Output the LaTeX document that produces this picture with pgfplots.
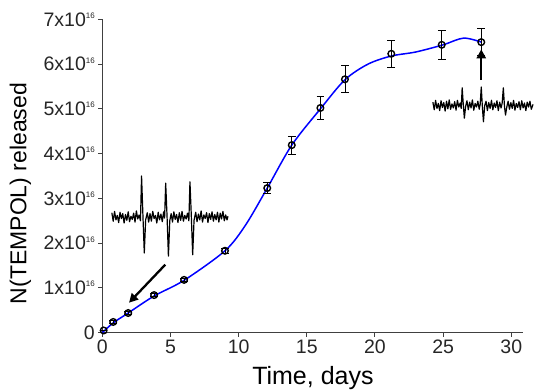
\documentclass[border=0pt]{standalone}
\usepackage{fontspec}
\setmainfont{Liberation Sans}
\usepackage{pgfplots}
\pgfplotsset{compat=1.18}
\usetikzlibrary{arrows.meta}
\newcommand{\sx}{\raisebox{0.75ex}{\fontsize{8}{8}\selectfont 16}}
\begin{document}
\begin{tikzpicture}
\begin{axis}[
  at={(0,0)}, anchor=origin,
  scale only axis, width=420.4pt, height=313.4pt,
  xmin=0, xmax=30.84, ymin=0, ymax=7,
  axis lines*=left,
  axis line style={draw=black!75, line width=0.9pt},
  tick style={draw=black!75, line width=0.9pt},
  tick align=outside, major tick length=4pt,
  xtick={0,5,...,30}, ytick={0,1,...,7},
  yticklabels={0,{1x10\sx},{2x10\sx},{3x10\sx},{4x10\sx},{5x10\sx},{6x10\sx},{7x10\sx}},
  /pgf/number format/assume math mode=true,
  ticklabel style={font=\fontsize{19.5}{21}\selectfont, text=black!85},
  xticklabel style={yshift=0pt},
  yticklabel style={xshift=0pt},
  xlabel={Time, days}, ylabel={N(TEMPOL) released},
  xlabel style={font=\fontsize{25}{28}\selectfont, at={(axis description cs:0.501,0)}, anchor=base, yshift=-52pt},
  ylabel style={font=\fontsize{23}{26}\selectfont, at={(axis description cs:-0.195,0.444)}, anchor=center},
  clip=false,
]
% inset ESR spectrum (left)
\addplot[black, line width=1.2pt, line join=round] coordinates {
(0.7,2.68)(0.8,2.49)(0.9,2.71)(1.0,2.52)(1.1,2.62)(1.2,2.46)(1.3,2.69)(1.4,2.55)(1.5,2.66)(1.6,2.45)(1.7,2.64)(1.8,2.51)(1.9,2.70)(2.0,2.48)(2.1,2.60)(2.2,2.53)(2.3,2.67)(2.4,2.47)(2.5,2.72)(2.6,2.54)(2.7,2.63)(2.8,2.50)
(2.88,3.50)(2.98,2.62)(3.08,1.78)(3.18,2.52)
(3.3,2.68)(3.4,2.47)(3.5,2.66)(3.6,2.49)(3.7,2.71)(3.8,2.55)(3.9,2.62)(4.0,2.45)(4.1,2.69)(4.2,2.52)(4.3,2.65)(4.4,2.48)(4.5,2.70)(4.57,2.56)
(4.65,3.34)(4.75,2.60)(4.85,1.71)(4.95,2.50)
(5.05,2.66)(5.15,2.47)(5.25,2.70)(5.35,2.53)(5.45,2.64)(5.55,2.46)(5.65,2.68)(5.75,2.51)(5.85,2.71)(5.95,2.49)(6.05,2.62)(6.15,2.54)(6.25,2.67)(6.35,2.50)
(6.43,3.37)(6.53,2.61)(6.63,1.74)(6.73,2.51)
(6.85,2.69)(6.95,2.48)(7.05,2.65)(7.15,2.52)(7.25,2.72)(7.35,2.47)(7.45,2.63)(7.55,2.55)(7.65,2.68)(7.75,2.46)(7.85,2.66)(7.95,2.53)(8.05,2.70)(8.15,2.49)(8.25,2.64)(8.35,2.52)(8.45,2.69)(8.55,2.47)(8.65,2.67)(8.75,2.54)(8.85,2.71)(8.95,2.50)(9.05,2.63)(9.15,2.52)(9.22,2.60)
};
% inset ESR spectrum (right)
\addplot[black, line width=1.2pt, line join=round] coordinates {
(24.25,5.15)(24.35,4.98)(24.45,5.19)(24.55,5.01)(24.65,5.12)(24.75,4.96)(24.85,5.18)(24.95,5.03)(25.05,5.14)(25.15,4.95)(25.25,5.17)(25.35,5.00)(25.45,5.20)(25.55,4.99)(25.65,5.11)(25.75,5.02)(25.85,5.16)(25.95,4.97)(26.05,5.19)(26.15,5.04)(26.25,5.13)(26.33,5.01)
(26.4,5.47)(26.48,5.10)(26.56,4.79)
(26.65,5.05)(26.75,5.18)(26.85,4.98)(26.95,5.15)(27.05,5.02)(27.15,5.20)(27.25,4.97)(27.35,5.12)(27.45,5.04)(27.55,5.17)(27.65,4.99)(27.72,5.10)
(27.8,5.49)(27.88,5.05)(27.96,4.71)
(28.05,5.07)(28.15,5.17)(28.25,4.96)(28.35,5.14)(28.45,5.01)(28.55,5.19)(28.65,4.98)(28.75,5.13)(28.85,5.03)(28.95,5.18)(29.05,4.96)(29.15,5.15)(29.25,5.02)(29.33,5.12)
(29.42,5.47)(29.5,5.06)(29.58,4.86)
(29.67,5.04)(29.77,5.17)(29.87,4.99)(29.97,5.14)(30.07,5.01)(30.17,5.19)(30.27,4.97)(30.37,5.12)(30.47,5.03)(30.57,5.16)(30.67,4.98)(30.77,5.18)(30.87,5.02)(30.97,5.13)(31.07,4.96)(31.17,5.15)(31.27,5.04)(31.37,5.17)(31.47,4.99)(31.6,5.10)
};
% arrows
\addplot[black, line width=2.3pt, -{Triangle[length=9pt,width=9pt]}] coordinates {(4.62,1.52)(1.96,0.67)};
\addplot[black, line width=2.3pt, -{Triangle[length=9pt,width=9pt]}] coordinates {(27.8,5.64)(27.8,6.33)};
% fitted curve
\addplot[blue, line width=1.5pt, smooth, tension=0.5] coordinates {
(0,0)(0.8,0.22)(1.9,0.44)(3.8,0.82)(6.0,1.17)(9.0,1.83)(10.5,2.4)(12.1,3.23)(13.9,4.19)(16,5.0)(17.8,5.65)(19.5,6.0)(21.2,6.18)(23,6.27)(25,6.43)(26.5,6.58)(27.8,6.49)
};
% data with error bars
\addplot[black, only marks, mark=o, mark size=3.3pt, mark options={line width=1.4pt},
  error bars/.cd, y dir=both, y explicit,
  error bar style={line width=0.8pt},
  error mark options={rotate=90, mark size=3.8pt, line width=0.8pt}]
  coordinates {
(0.1,0.05) +- (0,0)
(0.8,0.24) +- (0,0.03)
(1.9,0.44) +- (0,0.04)
(3.8,0.84) +- (0,0.04)
(6.0,1.18) +- (0,0.04)
(9.0,1.83) +- (0,0.06)
(12.1,3.23) +- (0,0.12)
(13.9,4.19) +- (0,0.2)
(16.0,5.02) +- (0,0.25)
(17.8,5.66) +- (0,0.3)
(21.2,6.23) +- (0,0.3)
(24.9,6.43) +- (0,0.32)
(27.8,6.49) +- (0,0.3)
};
\end{axis}
\pgfresetboundingbox
\path (-102.3pt,-57.5pt) rectangle (431.7pt,332.7pt);
\end{tikzpicture}
\end{document}
